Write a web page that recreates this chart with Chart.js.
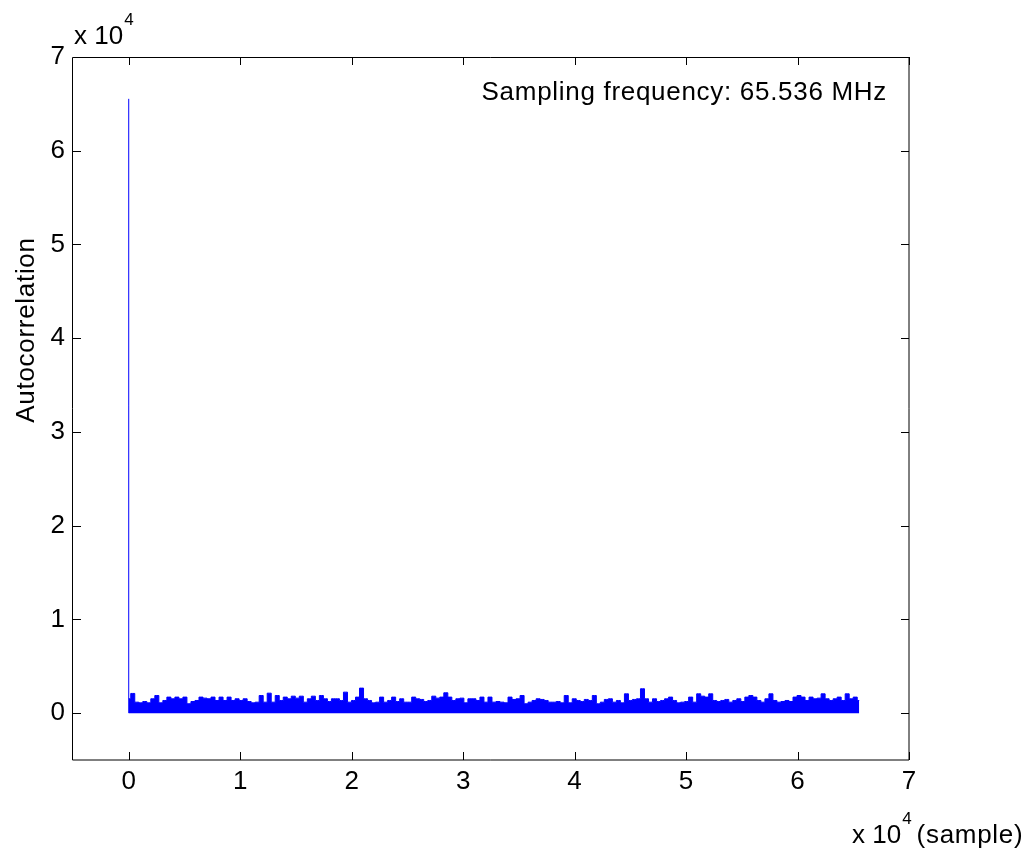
<!DOCTYPE html>
<html>
<head>
<meta charset="utf-8">
<script src="https://cdn.jsdelivr.net/npm/chart.js@4.4.1/dist/chart.umd.min.js"></script>
<style>
  html, body { margin: 0; padding: 0; background: #fff; }
  #wrap { width: 1036px; height: 854px; }
</style>
</head>
<body>
<div id="wrap"><canvas id="acf-chart" width="1036" height="854"></canvas></div>
<script>
// lag axis and value axis ticks (raw units, shown /1e4)
const xTicks = [0, 10000, 20000, 30000, 40000, 50000, 60000, 70000];
const yTicks = [0, 10000, 20000, 30000, 40000, 50000, 60000, 70000];

// autocorrelation at lag 0 and the last lag in the record
const lagZeroValue = 65536;
const lastLag = 65535;

// upper envelope of the side lobes, every ~4 px
const noiseEnvelope = [
  1530, 2100, 1170, 1100, 1240, 1100, 1530, 1880, 1100, 1350, 1710, 1530, 1710, 1530, 1710,
  1000, 1240, 1350, 1710, 1600, 1530, 1710, 1350, 1710, 1350, 1710, 1350, 1530, 1350, 1530,
  1240, 1100, 1170, 1880, 1170, 2130, 1170, 1880, 1350, 1710, 1530, 1810, 1600, 1810, 1170,
  1530, 1810, 1350, 1880, 1530, 1240, 1530, 1530, 1350, 2240, 1170, 1350, 1710, 2670, 1530, 1350,
  1100, 1170, 1710, 1170, 1350, 1710, 1240, 1530, 1170, 1170, 1710, 1530, 1460, 1240, 1350,
  1810, 1600, 1710, 2170, 1710, 1350, 1530, 1600, 1100, 1530, 1530, 1350, 1710, 1170, 1710, 1170,
  1240, 1170, 1100, 1710, 1460, 1530, 1880, 1000, 1170, 1350, 1530, 1460, 1350, 1170, 1170,
  1240, 1100, 1880, 1100, 1530, 1350, 1240, 1460, 1350, 1880, 1000, 1170, 1460, 1530, 1170, 1350,
  1100, 2060, 1350, 1460, 1530, 2600, 1530, 1170, 1530, 1240, 1350, 1530, 1710, 1350, 1100,
  1170, 1240, 1710, 1170, 2060, 1810, 1710, 2060, 1350, 1240, 1350, 1460, 1170, 1350, 1530, 1240,
  1710, 1880, 1710, 1350, 1170, 1530, 2060, 1350, 1170, 1240, 1350, 1240, 1710, 1880, 1710,
  1350, 1710, 1530, 1600, 2060, 1530, 1350, 1530, 1710, 1350, 2060, 1530, 1710, 1350
];

const FONT = '"Liberation Sans", Arial, Helvetica, sans-serif';

const noisePoints = noiseEnvelope.map((v, i) => ({
  x: i * lastLag / (noiseEnvelope.length - 1),
  y: v
}));

// "x 10" with a raised 4, returns end x
function drawExp(ctx, x, y) {
  ctx.letterSpacing = '0px';
  ctx.font = '26px ' + FONT;
  ctx.fillText('x 10', x, y);
  const w = ctx.measureText('x 10').width;
  ctx.font = '17px ' + FONT;
  ctx.fillText('4', x + w + 1, y - 19);
  return x + w + 1 + ctx.measureText('4').width;
}

// box + inward ticks like matlab
const framePlugin = {
  id: 'frame',
  afterDatasetsDraw(chart) {
    const { ctx, chartArea: a, scales } = chart;
    const tl = 8;
    ctx.save();
    ctx.strokeStyle = '#000';
    ctx.lineWidth = 1;
    ctx.beginPath();
    ctx.rect(Math.round(a.left) - 0.5, Math.round(a.top) + 0.5,
             Math.round(a.right - a.left) + 0.5, Math.round(a.bottom - a.top) - 0.5);
    ctx.stroke();
    ctx.beginPath();
    xTicks.forEach(v => {
      const px = Math.round(scales.x.getPixelForValue(v)) + 0.5;
      ctx.moveTo(px, a.bottom); ctx.lineTo(px, a.bottom - tl);
      ctx.moveTo(px, a.top); ctx.lineTo(px, a.top + tl);
    });
    yTicks.forEach(v => {
      const py = Math.round(scales.y.getPixelForValue(v)) + 0.5;
      ctx.moveTo(a.left, py); ctx.lineTo(a.left + tl, py);
      ctx.moveTo(a.right, py); ctx.lineTo(a.right - tl, py);
    });
    ctx.stroke();
    ctx.restore();
  },
  afterDraw(chart) {
    const ctx = chart.ctx;
    ctx.save();
    ctx.fillStyle = '#000';
    ctx.textAlign = 'left';
    ctx.textBaseline = 'alphabetic';
    drawExp(ctx, 74, 44);
    const end = drawExp(ctx, 852, 843);
    ctx.letterSpacing = '0.7px';
    ctx.font = '26px ' + FONT;
    ctx.fillText('(sample)', end + 5, 843);
    // annotation
    ctx.textAlign = 'right';
    ctx.fillText('Sampling frequency: 65.536 MHz', 887, 100);
    // y label
    ctx.translate(27, 330);
    ctx.rotate(-Math.PI / 2);
    ctx.textAlign = 'center';
    ctx.textBaseline = 'middle';
    ctx.fillText('Autocorrelation', 0, 0);
    ctx.restore();
  }
};

const ctx = document.getElementById('acf-chart').getContext('2d');
const acfChart = new Chart(ctx, {
  type: 'line',
  data: {
    datasets: [
      {
        label: 'side lobes',
        data: noisePoints,
        borderColor: '#0000ff',
        backgroundColor: '#0000ff',
        borderWidth: 1,
        pointRadius: 0,
        stepped: 'middle',
        fill: 'origin'
      },
      {
        label: 'lag 0',
        data: [{ x: 0, y: 0 }, { x: 0, y: lagZeroValue }],
        borderColor: '#0000ff',
        borderWidth: 1,
        pointRadius: 0,
        fill: false
      }
    ]
  },
  options: {
    responsive: false,
    animation: false,
    layout: { padding: { top: 57, right: 127, left: 0, bottom: 0 } },
    plugins: {
      legend: { display: false },
      tooltip: { enabled: false }
    },
    scales: {
      x: {
        type: 'linear',
        min: -5000,
        max: 70000,
        grid: { display: false, drawTicks: false },
        border: { display: false },
        afterBuildTicks: s => { s.ticks = xTicks.map(v => ({ value: v })); },
        afterFit: s => { s.height = 94; },
        ticks: {
          color: '#000',
          padding: 6,
          maxRotation: 0,
          font: { size: 26, family: FONT },
          callback: v => v / 10000
        }
      },
      y: {
        type: 'linear',
        min: -5000,
        max: 70000,
        grid: { display: false, drawTicks: false },
        border: { display: false },
        afterBuildTicks: s => { s.ticks = yTicks.map(v => ({ value: v })); },
        afterFit: s => { s.width = 73; },
        ticks: {
          color: '#000',
          padding: 8,
          font: { size: 26, family: FONT },
          callback: v => v / 10000
        }
      }
    }
  },
  plugins: [framePlugin]
});
</script>
</body>
</html>
